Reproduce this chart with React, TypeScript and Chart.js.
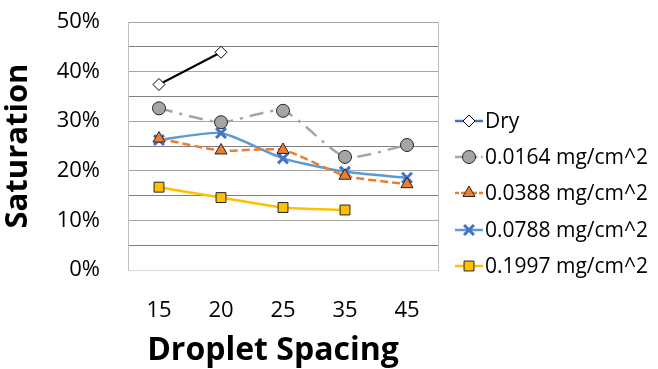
import React, { useEffect, useRef } from "react";
import { Chart, registerables } from "chart.js";
import { drawPoint } from "chart.js/helpers";

Chart.register(...registerables);

const spacings = ["15", "20", "25", "35", "45"];
const seriesNames = ["Dry", "0.0164 mg/cm^2", "0.0388 mg/cm^2", "0.0788 mg/cm^2", "0.1997 mg/cm^2"];
const dry = [37.4, 43.9, null, null, null];
const c0164 = [32.6, 29.8, 32.1, 22.8, 25.2];
const c0388 = [26.5, 24.1, 24.2, 19.0, 17.3];
const c0788 = [26.2, 27.6, 22.5, 19.8, 18.6];
const c1997 = [16.7, 14.6, 12.6, 12.1, null];
const xTitle = "Droplet Spacing";
const yTitle = "Saturation";

const FONT = "'Open Sans', Lato, sans-serif";

// Legend drawn in the right-hand margin: a short line sample with its marker, then the label
const sideLegend = {
  id: "sideLegend",
  afterDraw(chart: any) {
    const ctx = chart.ctx;
    const x0 = 455;
    const x1 = 483;
    const ys = [121, 157, 193, 230, 266];
    chart.data.datasets.forEach((ds: any, i: number) => {
      const y = ys[i];
      ctx.save();
      ctx.strokeStyle = ds.legendLine || ds.borderColor;
      ctx.lineWidth = 2.5;
      ctx.setLineDash(ds.borderDash ? ds.borderDash.map((d: number) => d * 0.5) : []);
      ctx.beginPath();
      ctx.moveTo(x0, y);
      ctx.lineTo(x1, y);
      ctx.stroke();
      ctx.setLineDash([]);
      ctx.fillStyle = ds.pointBackgroundColor;
      ctx.strokeStyle = ds.pointBorderColor;
      ctx.lineWidth = ds.pointBorderWidth;
      drawPoint(ctx, { pointStyle: ds.pointStyle, radius: ds.pointRadius, borderWidth: ds.pointBorderWidth, rotation: 0 }, (x0 + x1) / 2, y);
      ctx.fillStyle = "#000";
      ctx.font = `21px ${FONT}`;
      ctx.textBaseline = "middle";
      ctx.textAlign = "left";
      ctx.fillText(ds.label, x1 + 2, y + 1);
      ctx.restore();
    });
  },
};

// Horizontal axis title, placed a little left of the plot centre
const xAxisTitle = {
  id: "xAxisTitle",
  afterDraw(chart: any) {
    const ctx = chart.ctx;
    ctx.save();
    ctx.fillStyle = "#000";
    ctx.font = `bold 32px ${FONT}`;
    ctx.textAlign = "center";
    ctx.textBaseline = "alphabetic";
    ctx.fillText(xTitle, 273, 360);
    ctx.restore();
  },
};

export default function App() {
  const ref = useRef<HTMLCanvasElement>(null);
  useEffect(() => {
    const chart = new Chart(ref.current!, {
      type: "line",
      data: {
        labels: spacings,
        datasets: [
          {
            label: seriesNames[0],
            data: dry,
            borderColor: "#000000",
            legendLine: "#4472C4",
            borderWidth: 2,
            pointStyle: "rectRot",
            pointRadius: 6,
            pointBackgroundColor: "#FFFFFF",
            pointBorderColor: "#000000",
            pointBorderWidth: 1,
            tension: 0,
          } as any,
          {
            label: seriesNames[1],
            data: c0164,
            borderColor: "#A5A5A5",
            borderWidth: 2.5,
            borderDash: [14, 7, 3, 7],
            pointStyle: "circle",
            pointRadius: 6.5,
            pointBackgroundColor: "#A5A5A5",
            pointBorderColor: "#262626",
            pointBorderWidth: 1,
            tension: 0.2,
          },
          {
            label: seriesNames[2],
            data: c0388,
            borderColor: "#ED7D31",
            borderWidth: 2.5,
            borderDash: [8, 4],
            pointStyle: "triangle",
            pointRadius: 7,
            pointBackgroundColor: "#ED7D31",
            pointBorderColor: "#262626",
            pointBorderWidth: 1,
            tension: 0.2,
          },
          {
            label: seriesNames[3],
            data: c0788,
            borderColor: "#5B9BD5",
            borderWidth: 2.5,
            pointStyle: "crossRot",
            pointRadius: 7,
            pointBackgroundColor: "#4472C4",
            pointBorderColor: "#4472C4",
            pointBorderWidth: 3,
            tension: 0.2,
          },
          {
            label: seriesNames[4],
            data: c1997,
            borderColor: "#FFC000",
            borderWidth: 2.5,
            pointStyle: "rect",
            pointRadius: 7,
            pointBackgroundColor: "#FFC000",
            pointBorderColor: "#262626",
            pointBorderWidth: 1,
            tension: 0.2,
          },
        ],
      },
      options: {
        responsive: false,
        animation: false,
        layout: { padding: { top: 22, right: 220, left: 0, bottom: 0 } },
        plugins: { legend: { display: false }, tooltip: { enabled: false } },
        scales: {
          x: {
            offset: true,
            grid: { display: false, offset: true },
            border: { display: true, color: "#D9D9D9", width: 1 },
            ticks: { color: "#000", font: { family: FONT, size: 22 }, padding: 20 },
            title: { display: false },
            afterFit(scale: any) {
              scale.height = 99;
            },
          },
          y: {
            min: 0,
            max: 50,
            ticks: {
              stepSize: 10,
              color: "#000",
              font: { family: FONT, size: 22 },
              padding: 28,
              callback: (v: any) => v + "%",
            },
            grid: { color: "#A6A6A6", lineWidth: 1, drawTicks: false },
            border: { display: true, color: "#BFBFBF" },
            title: {
              display: true,
              text: yTitle,
              color: "#000",
              font: { family: FONT, size: 31, weight: "bold" },
              padding: { top: 0, bottom: 0 },
            },
            afterFit(scale: any) {
              scale.width = 128;
              scale.paddingTop = 0;
              scale.paddingBottom = 0;
            },
          },
          yMinor: {
            position: "right",
            min: 0,
            max: 50,
            ticks: { stepSize: 5, display: false },
            grid: {
              drawTicks: false,
              color: (c: any) => (c.tick && c.tick.value % 10 === 0 ? "rgba(0,0,0,0)" : "#808080"),
              lineWidth: 1,
            },
            border: { display: true, color: "#BFBFBF" },
            afterFit(scale: any) {
              scale.width = 0;
              scale.paddingTop = 0;
              scale.paddingBottom = 0;
            },
          } as any,
        },
      },
      plugins: [sideLegend, xAxisTitle],
    });
    return () => chart.destroy();
  }, []);
  return (
    <div style={{ position: "fixed", left: 0, top: 0, width: 658, height: 369, background: "#fff" }}>
      <canvas ref={ref} width={658} height={369} />
    </div>
  );
}
